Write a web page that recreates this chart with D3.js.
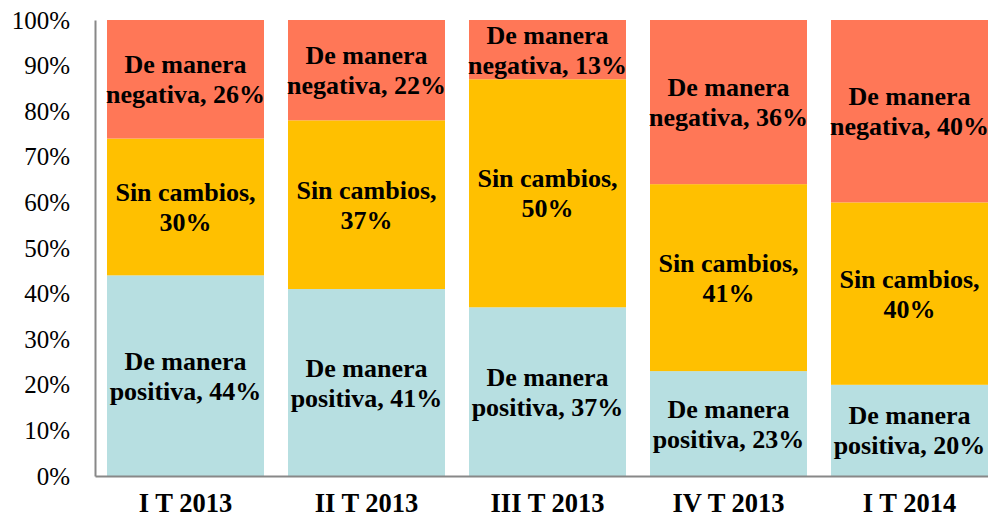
<!DOCTYPE html>
<html>
<head>
<meta charset="utf-8">
<script src="https://cdn.jsdelivr.net/npm/d3@7"></script>
<style>
body { margin: 0; background: #fff; }
svg { display: block; }
svg text { font-family: 'Liberation Serif', 'Times New Roman', Times, 'DejaVu Serif', serif; }
</style>
</head>
<body>
<div id="chart"></div>
<script>
var categories = ['I T 2013', 'II T 2013', 'III T 2013', 'IV T 2013', 'I T 2014'];
var positiva = [44, 41, 37, 23, 20];
var sinCambios = [30, 37, 50, 41, 40];
var negativa = [26, 22, 13, 36, 40];
var seriesNames = ['De manera positiva', 'Sin cambios', 'De manera negativa'];
var seriesColors = ['#B7DFE1', '#FFC000', '#FF7757'];
var yTicks = [0, 10, 20, 30, 40, 50, 60, 70, 80, 90, 100];

var width = 988, height = 517;
var margin = {left: 95, top: 20, bottom: 41};
var plotRight = 95 + 5 * 181;

var svg = d3.select('#chart')
    .append('svg')
    .attr('width', width)
    .attr('height', height);

var x = d3.scaleBand()
    .domain(categories)
    .range([margin.left, plotRight])
    .paddingInner(24 / 181)
    .paddingOuter(12 / 181);

var y = d3.scaleLinear()
    .domain([0, 100])
    .range([height - margin.bottom, margin.top]);

var rows = categories.map(function(c, i) {
	return {cat: c, positiva: positiva[i], sinCambios: sinCambios[i], negativa: negativa[i]};
});
var keys = ['positiva', 'sinCambios', 'negativa'];
var stacked = d3.stack().keys(keys)(rows);

var layers = svg.selectAll('.layer')
    .data(stacked)
    .enter()
    .append('g')
    .attr('class', 'layer')
    .attr('fill', function(d, i) { return seriesColors[i]; });

layers.selectAll('rect')
    .data(function(d) { return d; })
    .enter()
    .append('rect')
    .attr('x', function(d) { return x(d.data.cat); })
    .attr('width', x.bandwidth())
    .attr('y', function(d) { return y(d[1]); })
    .attr('height', function(d) { return y(d[0]) - y(d[1]); });

// segment labels, two lines each
var labelLines = function(k, v) {
	if (k == 'positiva') return ['De manera', 'positiva, ' + v + '%'];
	if (k == 'sinCambios') return ['Sin cambios,', v + '%'];
	return ['De manera', 'negativa, ' + v + '%'];
};

stacked.forEach(function(layer) {
	layer.forEach(function(d) {
		var cx = x(d.data.cat) + x.bandwidth() / 2;
		var cy = (y(d[0]) + y(d[1])) / 2;
		var lines = labelLines(layer.key, d.data[layer.key]);
		var t = svg.append('text')
		    .attr('text-anchor', 'middle')
		    .style('font-weight', 'bold')
		    .style('font-size', '26px')
		    .attr('fill', '#000');
		lines.forEach(function(l, j) {
			t.append('tspan')
			    .attr('x', cx)
			    .attr('y', cy + (j - 0.5) * 30 + 9)
			    .text(l);
		});
	});
});

// axes
var yAxis = svg.append('g')
    .attr('transform', 'translate(' + margin.left + ',0)')
    .call(d3.axisLeft(y).tickValues(yTicks).tickSize(0).tickPadding(25).tickFormat(function(d) { return d + '%'; }));
yAxis.select('.domain').attr('stroke', '#888').attr('stroke-width', 2);
yAxis.selectAll('text')
    .style('font-size', '25px')
    .attr('fill', '#000');

var xAxis = svg.append('g')
    .attr('transform', 'translate(0,' + (height - margin.bottom) + ')')
    .call(d3.axisBottom(x).tickSize(0).tickPadding(17));
xAxis.select('.domain').attr('stroke', '#888').attr('stroke-width', 2);
xAxis.selectAll('text')
    .style('font-weight', 'bold')
    .style('font-size', '26.5px')
    .attr('fill', '#000');
</script>
</body>
</html>
